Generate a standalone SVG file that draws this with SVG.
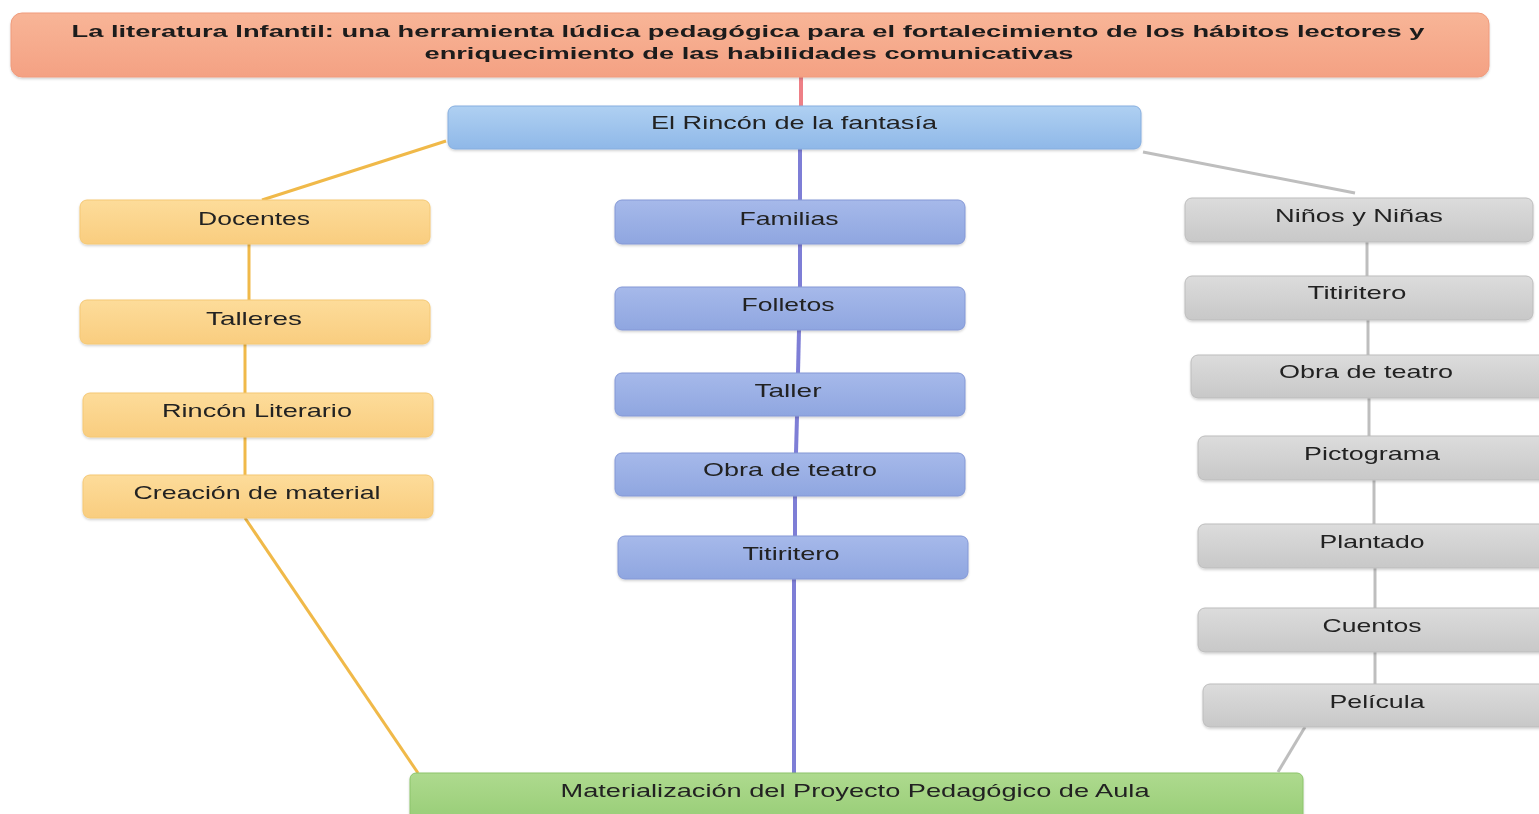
<svg xmlns="http://www.w3.org/2000/svg" width="1539" height="814" viewBox="0 0 1539 814">
<defs>
<linearGradient id="gTitle" x1="0" y1="0" x2="0" y2="1"><stop offset="0" stop-color="#F8B597"/><stop offset="1" stop-color="#F4A183"/></linearGradient>
<linearGradient id="gTop" x1="0" y1="0" x2="0" y2="1"><stop offset="0" stop-color="#AFD0F2"/><stop offset="1" stop-color="#8FB8E8"/></linearGradient>
<linearGradient id="gY" x1="0" y1="0" x2="0" y2="1"><stop offset="0" stop-color="#FDDC9A"/><stop offset="1" stop-color="#F9CD7F"/></linearGradient>
<linearGradient id="gB" x1="0" y1="0" x2="0" y2="1"><stop offset="0" stop-color="#A6B9EA"/><stop offset="1" stop-color="#8FA6E0"/></linearGradient>
<linearGradient id="gG" x1="0" y1="0" x2="0" y2="1"><stop offset="0" stop-color="#DCDCDC"/><stop offset="1" stop-color="#C8C8C8"/></linearGradient>
<linearGradient id="gGr" x1="0" y1="0" x2="0" y2="1"><stop offset="0" stop-color="#AEDA8E"/><stop offset="1" stop-color="#98CD77"/></linearGradient>
<filter id="sh" x="-5%" y="-20%" width="110%" height="150%"><feDropShadow dx="0" dy="1.5" stdDeviation="1.2" flood-color="#000" flood-opacity="0.18"/></filter>
</defs>
<style>
text{font-family:"Liberation Sans",Arial,sans-serif;font-size:18.5px;text-anchor:middle;fill:#222}
.t{font-weight:bold;font-size:17px;fill:#1a1a1a}
.ny{fill:url(#gY);stroke:#F5C874;stroke-width:1}
.nb{fill:url(#gB);stroke:#8498D6;stroke-width:1}
.ng{fill:url(#gG);stroke:#BDBDBD;stroke-width:1}
.cy{stroke:#F0B949;stroke-width:3;fill:none}
.cb{stroke:#7E7ED6;stroke-width:4;fill:none}
.cg{stroke:#BEBEBE;stroke-width:3;fill:none}
.cr{stroke:#EE7F86;stroke-width:4;fill:none}
</style>
<rect width="1539" height="814" fill="#FFFFFF"/>
<g id="connectors">
<line class="cr" x1="801" y1="77" x2="801" y2="106"/>
<line class="cy" x1="446" y1="141" x2="262" y2="200"/>
<line class="cy" x1="249" y1="244" x2="249" y2="300"/>
<line class="cy" x1="245" y1="344" x2="245" y2="393"/>
<line class="cy" x1="245" y1="437" x2="245" y2="475"/>
<line class="cy" x1="245" y1="518" x2="418" y2="773"/>
<line class="cb" x1="800" y1="149" x2="800" y2="287"/>
<line class="cb" x1="799" y1="330" x2="798" y2="373"/>
<line class="cb" x1="797" y1="416" x2="796" y2="453"/>
<line class="cb" x1="795" y1="496" x2="795" y2="536"/>
<line class="cb" x1="794" y1="579" x2="794" y2="773"/>
<line class="cg" x1="1143" y1="152" x2="1355" y2="193"/>
<line class="cg" x1="1367" y1="242" x2="1367" y2="276"/>
<line class="cg" x1="1368" y1="320" x2="1368" y2="355"/>
<line class="cg" x1="1369" y1="398" x2="1369" y2="436"/>
<line class="cg" x1="1374" y1="480" x2="1374" y2="524"/>
<line class="cg" x1="1375" y1="568" x2="1375" y2="608"/>
<line class="cg" x1="1375" y1="652" x2="1375" y2="684"/>
<line class="cg" x1="1305" y1="727" x2="1278" y2="772"/>
</g>
<g id="n-title" filter="url(#sh)">
<rect x="11" y="13" width="1478" height="64" rx="11" fill="url(#gTitle)" stroke="#F09B7C"/>
<text class="t" x="748" y="37" textLength="1353" lengthAdjust="spacingAndGlyphs">La literatura Infantil: una herramienta lúdica pedagógica para el fortalecimiento de los hábitos lectores y</text>
<text class="t" x="749" y="59" textLength="649" lengthAdjust="spacingAndGlyphs">enriquecimiento de las habilidades comunicativas</text>
</g>
<g id="n-rincon" filter="url(#sh)">
<rect x="448" y="106" width="693" height="43" rx="7" fill="url(#gTop)" stroke="#86AEDF"/>
<text x="794" y="129" textLength="286" lengthAdjust="spacingAndGlyphs">El Rincón de la fantasía</text>
</g>
<g id="n-docentes" filter="url(#sh)"><rect class="ny" x="80" y="200" width="350" height="44" rx="7"/><text x="254" y="225" textLength="112" lengthAdjust="spacingAndGlyphs">Docentes</text></g>
<g id="n-talleres" filter="url(#sh)"><rect class="ny" x="80" y="300" width="350" height="44" rx="7"/><text x="254" y="325" textLength="96" lengthAdjust="spacingAndGlyphs">Talleres</text></g>
<g id="n-rincon-literario" filter="url(#sh)"><rect class="ny" x="83" y="393" width="350" height="44" rx="7"/><text x="257" y="417" textLength="190" lengthAdjust="spacingAndGlyphs">Rincón Literario</text></g>
<g id="n-creacion" filter="url(#sh)"><rect class="ny" x="83" y="475" width="350" height="43" rx="7"/><text x="257" y="499" textLength="247" lengthAdjust="spacingAndGlyphs">Creación de material</text></g>
<g id="n-familias" filter="url(#sh)"><rect class="nb" x="615" y="200" width="350" height="44" rx="7"/><text x="789" y="225" textLength="99" lengthAdjust="spacingAndGlyphs">Familias</text></g>
<g id="n-folletos" filter="url(#sh)"><rect class="nb" x="615" y="287" width="350" height="43" rx="7"/><text x="788" y="311" textLength="93" lengthAdjust="spacingAndGlyphs">Folletos</text></g>
<g id="n-taller" filter="url(#sh)"><rect class="nb" x="615" y="373" width="350" height="43" rx="7"/><text x="788" y="397" textLength="67" lengthAdjust="spacingAndGlyphs">Taller</text></g>
<g id="n-obra-b" filter="url(#sh)"><rect class="nb" x="615" y="453" width="350" height="43" rx="7"/><text x="790" y="476" textLength="174" lengthAdjust="spacingAndGlyphs">Obra de teatro</text></g>
<g id="n-titiritero-b" filter="url(#sh)"><rect class="nb" x="618" y="536" width="350" height="43" rx="7"/><text x="791" y="560" textLength="97" lengthAdjust="spacingAndGlyphs">Titiritero</text></g>
<g id="n-ninos" filter="url(#sh)"><rect class="ng" x="1185" y="198" width="348" height="44" rx="7"/><text x="1359" y="222" textLength="168" lengthAdjust="spacingAndGlyphs">Niños y Niñas</text></g>
<g id="n-titiritero-g" filter="url(#sh)"><rect class="ng" x="1185" y="276" width="348" height="44" rx="7"/><text x="1357" y="299" textLength="99" lengthAdjust="spacingAndGlyphs">Titiritero</text></g>
<g id="n-obra-g" filter="url(#sh)"><rect class="ng" x="1191" y="355" width="356" height="43" rx="7"/><text x="1366" y="378" textLength="174" lengthAdjust="spacingAndGlyphs">Obra de teatro</text></g>
<g id="n-pictograma" filter="url(#sh)"><rect class="ng" x="1198" y="436" width="350" height="44" rx="7"/><text x="1372" y="460" textLength="136" lengthAdjust="spacingAndGlyphs">Pictograma</text></g>
<g id="n-plantado" filter="url(#sh)"><rect class="ng" x="1198" y="524" width="350" height="44" rx="7"/><text x="1372" y="548" textLength="105" lengthAdjust="spacingAndGlyphs">Plantado</text></g>
<g id="n-cuentos" filter="url(#sh)"><rect class="ng" x="1198" y="608" width="350" height="44" rx="7"/><text x="1372" y="632" textLength="99" lengthAdjust="spacingAndGlyphs">Cuentos</text></g>
<g id="n-pelicula" filter="url(#sh)"><rect class="ng" x="1203" y="684" width="345" height="43" rx="7"/><text x="1377" y="708" textLength="95" lengthAdjust="spacingAndGlyphs">Película</text></g>
<g id="n-materializacion" filter="url(#sh)">
<rect x="410" y="773" width="893" height="48" rx="6" fill="url(#gGr)" stroke="#8CC46B"/>
<text x="855" y="797" textLength="589" lengthAdjust="spacingAndGlyphs">Materialización del Proyecto Pedagógico de Aula</text>
</g>
</svg>
